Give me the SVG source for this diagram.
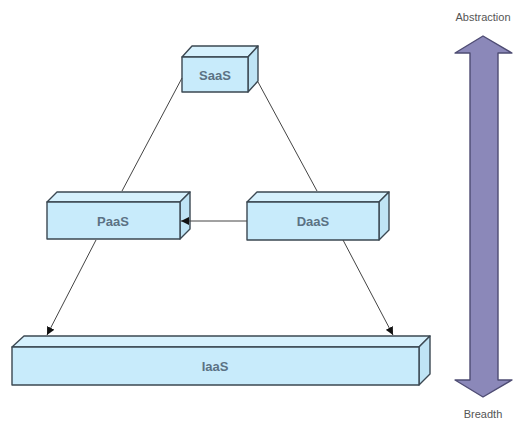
<svg xmlns="http://www.w3.org/2000/svg" width="522" height="425" viewBox="0 0 522 425">
  <style>
    .front { fill: #c8ebfb; stroke: #3b4852; stroke-width: 1.4; stroke-linejoin: round; }
    .top { fill: #d6f1fd; stroke: #3b4852; stroke-width: 1.4; stroke-linejoin: round; }
    .side { fill: #bfe4f5; stroke: #3b4852; stroke-width: 1.4; stroke-linejoin: round; }
    .label { font-family: "Liberation Sans", Arial, sans-serif; font-size: 13px; font-weight: bold; fill: #5b7284; text-anchor: middle; dominant-baseline: central; }
    .axis { font-family: "Liberation Sans", Arial, sans-serif; font-size: 11px; fill: #555; text-anchor: middle; dominant-baseline: central; }
    .link { stroke: #444; stroke-width: 1; fill: none; }
  </style>
  <defs>
    <marker id="head" viewBox="0 0 10 10" refX="10" refY="5" markerWidth="8" markerHeight="8" markerUnits="userSpaceOnUse" orient="auto">
      <path d="M0,0 L10,5 L0,10 Z" fill="#111"/>
    </marker>
  </defs>
  <rect width="522" height="425" fill="#ffffff"/>

  <!-- SaaS -->
  <g id="saas">
    <path class="top" d="M182,57 L192,46 L258,46 L248,57 Z"/>
    <path class="side" d="M248,57 L258,46 L258,81 L248,92 Z"/>
    <rect class="front" x="182" y="57" width="66" height="35"/>
    <text class="label" x="215" y="75">SaaS</text>
  </g>

  <!-- PaaS -->
  <g id="paas">
    <path class="top" d="M47,202 L57,192 L190,192 L180,202 Z"/>
    <path class="side" d="M180,202 L190,192 L190,229 L180,239 Z"/>
    <rect class="front" x="47" y="202" width="133" height="37"/>
    <text class="label" x="113" y="221">PaaS</text>
  </g>

  <!-- DaaS -->
  <g id="daas">
    <path class="top" d="M247,202 L257,192 L389,192 L379,202 Z"/>
    <path class="side" d="M379,202 L389,192 L389,230 L379,240 Z"/>
    <rect class="front" x="247" y="202" width="132" height="38"/>
    <text class="label" x="313" y="221">DaaS</text>
  </g>

  <!-- IaaS -->
  <g id="iaas">
    <path class="top" d="M12,347 L24,336 L430,336 L419,347 Z"/>
    <path class="side" d="M419,347 L430,336 L430,374 L419,385 Z"/>
    <rect class="front" x="12" y="347" width="407" height="38"/>
    <text class="label" x="215" y="366">IaaS</text>
  </g>

  <!-- connectors, drawn over the boxes so arrowheads stay visible -->
  <g id="connectors">
    <line class="link" x1="182" y1="78" x2="122" y2="191"/>
    <line class="link" x1="258" y1="82" x2="317" y2="191"/>
    <line class="link" x1="247" y1="221" x2="181" y2="221" marker-end="url(#head)"/>
    <line class="link" x1="96" y1="240" x2="47" y2="335" marker-end="url(#head)"/>
    <line class="link" x1="343" y1="240" x2="393" y2="335" marker-end="url(#head)"/>
  </g>

  <!-- abstraction / breadth axis -->
  <g id="axis">
    <path d="M483,36 L512,53 L498,53 L498,380 L512,380 L483,397 L455,380 L470,380 L470,53 L455,53 Z" fill="#8b88b9" stroke="#4e4c73" stroke-width="1.4" stroke-linejoin="round"/>
    <text class="axis" x="483" y="17">Abstraction</text>
    <text class="axis" x="483" y="414">Breadth</text>
  </g>
</svg>
